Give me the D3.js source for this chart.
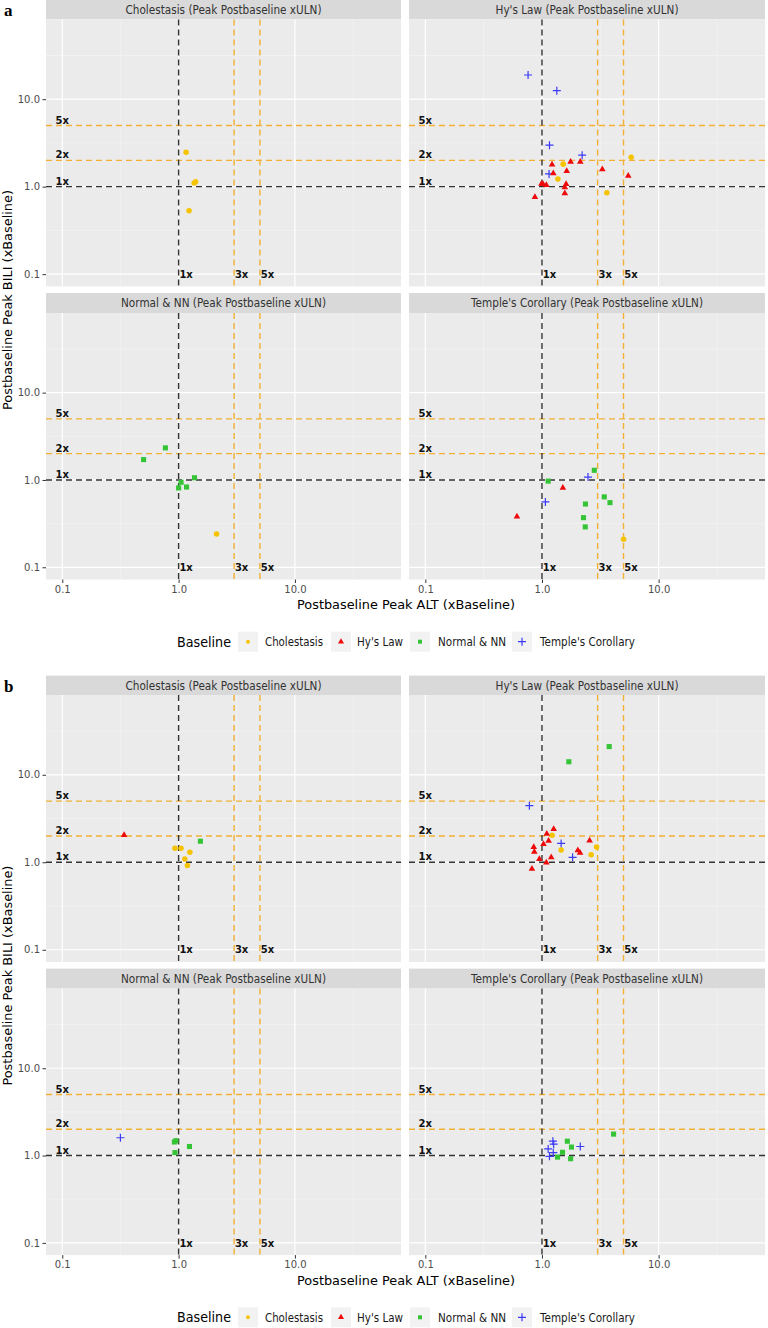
<!DOCTYPE html>
<html><head><meta charset="utf-8">
<script src="https://cdn.jsdelivr.net/npm/d3@7"></script>
<style>body{margin:0;background:#fff}</style>
</head><body>
<svg id="c" width="768" height="1328"></svg>
<script>
// ---------- data ----------
const categories = ["Cholestasis", "Hy's Law", "Normal & NN", "Temple's Corollary"];
const panelTitles = ["Cholestasis (Peak Postbaseline xULN)", "Hy's Law (Peak Postbaseline xULN)",
                     "Normal & NN (Peak Postbaseline xULN)", "Temple's Corollary (Peak Postbaseline xULN)"];
const majorTicks = [0.1, 1, 10];
const majorTickLabels = ["0.1", "1.0", "10.0"];
const minorTicks = [0.316, 3.16, 31.6];
const hRefValues = [1, 2, 5];
const hRefLabels = ["1x", "2x", "5x"];
const vRefValues = [1, 3, 5];
const vRefLabels = ["1x", "3x", "5x"];
const figureLabels = ["a", "b"];

// points: [peak ALT xBaseline, peak BILI xBaseline, baseline category]
const aCholestasis = [
  [1.16, 2.48, "Cholestasis"], [1.36, 1.10, "Cholestasis"], [1.40, 1.14, "Cholestasis"], [1.23, 0.53, "Cholestasis"]
];
const aHysLaw = [
  [0.76, 18.9, "Temple's Corollary"], [1.34, 12.5, "Temple's Corollary"], [1.16, 2.98, "Temple's Corollary"],
  [2.21, 2.29, "Temple's Corollary"], [1.15, 1.40, "Temple's Corollary"],
  [1.52, 1.81, "Cholestasis"], [1.37, 1.22, "Cholestasis"], [5.82, 2.17, "Cholestasis"], [3.60, 0.85, "Cholestasis"],
  [1.22, 1.79, "Hy's Law"], [1.76, 1.92, "Hy's Law"], [2.13, 1.92, "Hy's Law"], [1.63, 1.51, "Hy's Law"],
  [1.25, 1.42, "Hy's Law"], [0.99, 1.08, "Hy's Law"], [1.02, 1.07, "Hy's Law"], [1.09, 1.04, "Hy's Law"],
  [1.61, 1.07, "Hy's Law"], [1.57, 0.98, "Hy's Law"], [1.57, 0.84, "Hy's Law"], [0.87, 0.76, "Hy's Law"],
  [3.29, 1.58, "Hy's Law"], [5.49, 1.33, "Hy's Law"]
];
const aNormal = [
  [0.77, 2.33, "Normal & NN"], [0.50, 1.71, "Normal & NN"], [1.37, 1.06, "Normal & NN"],
  [1.05, 0.94, "Normal & NN"], [1.00, 0.81, "Normal & NN"], [1.17, 0.83, "Normal & NN"],
  [2.12, 0.24, "Cholestasis"]
];
const aTemple = [
  [2.81, 1.29, "Normal & NN"], [1.13, 0.97, "Normal & NN"], [3.42, 0.64, "Normal & NN"], [3.83, 0.55, "Normal & NN"],
  [2.36, 0.53, "Normal & NN"], [2.27, 0.37, "Normal & NN"], [2.35, 0.29, "Normal & NN"],
  [2.48, 1.08, "Temple's Corollary"], [1.07, 0.56, "Temple's Corollary"],
  [1.51, 0.81, "Hy's Law"], [0.61, 0.38, "Hy's Law"],
  [5.01, 0.21, "Cholestasis"]
];
const bCholestasis = [
  [0.34, 2.04, "Hy's Law"], [1.54, 1.74, "Normal & NN"],
  [0.93, 1.45, "Cholestasis"], [1.05, 1.45, "Cholestasis"], [1.25, 1.30, "Cholestasis"],
  [1.13, 1.09, "Cholestasis"], [1.19, 0.92, "Cholestasis"]
];
const bHysLaw = [
  [1.70, 14.1, "Normal & NN"], [3.77, 21.0, "Normal & NN"],
  [0.78, 4.44, "Temple's Corollary"], [1.46, 1.64, "Temple's Corollary"], [1.83, 1.14, "Temple's Corollary"],
  [1.22, 2.04, "Cholestasis"], [1.46, 1.38, "Cholestasis"], [2.94, 1.49, "Cholestasis"], [2.64, 1.22, "Cholestasis"],
  [1.26, 2.39, "Hy's Law"], [1.10, 2.12, "Hy's Law"], [1.14, 1.76, "Hy's Law"], [1.03, 1.61, "Hy's Law"],
  [0.85, 1.49, "Hy's Law"], [0.86, 1.32, "Hy's Law"], [0.95, 1.09, "Hy's Law"], [1.09, 0.99, "Hy's Law"],
  [1.20, 1.14, "Hy's Law"], [0.82, 0.84, "Hy's Law"], [2.03, 1.37, "Hy's Law"], [2.12, 1.28, "Hy's Law"],
  [2.56, 1.77, "Hy's Law"]
];
const bNormal = [
  [0.316, 1.60, "Temple's Corollary"],
  [0.92, 1.43, "Normal & NN"], [0.95, 1.48, "Normal & NN"], [0.93, 1.08, "Normal & NN"], [1.24, 1.27, "Normal & NN"]
];
const bTemple = [
  [4.11, 1.76, "Normal & NN"], [1.65, 1.46, "Normal & NN"], [1.79, 1.25, "Normal & NN"],
  [1.50, 1.09, "Normal & NN"], [1.36, 0.96, "Normal & NN"], [1.76, 0.92, "Normal & NN"],
  [1.24, 1.46, "Temple's Corollary"], [1.26, 1.35, "Temple's Corollary"], [1.13, 1.19, "Temple's Corollary"],
  [1.25, 1.08, "Temple's Corollary"], [1.16, 0.98, "Temple's Corollary"], [2.13, 1.27, "Temple's Corollary"]
];
const figures = [
  [aCholestasis, aHysLaw, aNormal, aTemple],
  [bCholestasis, bHysLaw, bNormal, bTemple]
];

// ---------- styling ----------
const colorScale = d3.scaleOrdinal().domain(categories).range(["#F6C300", "#EE0A0A", "#35C435", "#3B3BF5"]);
const ORANGE = "#F2B134", DARK = "#333333";
const FONT = "'DejaVu Sans', sans-serif";
const figOffsets = [0, 675.6];
const cols = [{x: 46, w: 355}, {x: 409, w: 356}];
const rows = [{strip: 0, top: 19.4, h: 267}, {strip: 293, top: 313, h: 266.5}];
const logDom = [Math.pow(10, -1.14), Math.pow(10, 1.912)];

const svg = d3.select("#c");

function fit(sel, w) { sel.attr("textLength", w).attr("lengthAdjust", "spacingAndGlyphs"); return sel; }

function symbolPath(cat) {
  if (cat === "Cholestasis") return d3.symbol(d3.symbolCircle, 24)();
  if (cat === "Hy's Law") return d3.symbol(d3.symbolTriangle, 19)();
  if (cat === "Normal & NN") return d3.symbol(d3.symbolSquare, 26)();
  return "M-4,0H4M0,-4V4";
}
function styleMark(sel) {
  sel.attr("d", d => symbolPath(d[2]))
    .attr("fill", d => d[2] === "Temple's Corollary" ? "none" : colorScale(d[2]))
    .attr("stroke", d => d[2] === "Temple's Corollary" ? colorScale(d[2]) : "none")
    .attr("stroke-width", 1.2);
}

const stripWidths = [196, 183, 205, 232];

figures.forEach((panels, fi) => {
  const g = svg.append("g").attr("transform", `translate(0,${figOffsets[fi]})`);
  g.append("text").attr("x", 4).attr("y", 16).text(figureLabels[fi])
    .attr("font-family", "'Liberation Serif', serif").attr("font-weight", "bold").attr("font-size", 17);

  panels.forEach((pts, pi) => {
    const col = cols[pi % 2], row = rows[Math.floor(pi / 2)];
    const x = d3.scaleLog().domain(logDom).range([col.x, col.x + col.w]);
    const y = d3.scaleLog().domain(logDom).range([row.top + row.h, row.top]);
    const p = g.append("g");
    // strip
    p.append("rect").attr("x", col.x).attr("y", row.strip).attr("width", col.w).attr("height", row.top - row.strip)
      .attr("fill", "#D9D9D9");
    fit(p.append("text").attr("x", col.x + col.w / 2).attr("y", row.strip + 14).attr("text-anchor", "middle")
      .attr("font-family", FONT).attr("font-size", 12).attr("fill", "#333").text(panelTitles[pi]), stripWidths[pi]);
    // panel bg
    p.append("rect").attr("x", col.x).attr("y", row.top).attr("width", col.w).attr("height", row.h).attr("fill", "#EBEBEB");
    // grid
    p.selectAll(".vmin").data(minorTicks).join("line").attr("x1", d => x(d)).attr("x2", d => x(d))
      .attr("y1", row.top).attr("y2", row.top + row.h).attr("stroke", "#F5F5F5").attr("stroke-width", 0.6);
    p.selectAll(".hmin").data(minorTicks).join("line").attr("y1", d => y(d)).attr("y2", d => y(d))
      .attr("x1", col.x).attr("x2", col.x + col.w).attr("stroke", "#F5F5F5").attr("stroke-width", 0.6);
    p.selectAll(".vmaj").data(majorTicks).join("line").attr("x1", d => x(d)).attr("x2", d => x(d))
      .attr("y1", row.top).attr("y2", row.top + row.h).attr("stroke", "#FFFFFF").attr("stroke-width", 1.2);
    p.selectAll(".hmaj").data(majorTicks).join("line").attr("y1", d => y(d)).attr("y2", d => y(d))
      .attr("x1", col.x).attr("x2", col.x + col.w).attr("stroke", "#FFFFFF").attr("stroke-width", 1.2);
    // reference lines
    p.selectAll(".href").data(hRefValues).join("line").attr("y1", d => y(d)).attr("y2", d => y(d))
      .attr("x1", col.x).attr("x2", col.x + col.w)
      .attr("stroke", d => d === 1 ? DARK : ORANGE).attr("stroke-width", 1.4).attr("stroke-dasharray", "6,4");
    p.selectAll(".vref").data(vRefValues).join("line").attr("x1", d => x(d)).attr("x2", d => x(d))
      .attr("y1", row.top).attr("y2", row.top + row.h)
      .attr("stroke", d => d === 1 ? DARK : ORANGE).attr("stroke-width", 1.4).attr("stroke-dasharray", "6,4");
    // reference labels
    p.selectAll(".hlab").data(hRefValues).join("text").attr("x", x(0.1)).attr("y", d => y(d) - 2)
      .attr("text-anchor", "middle").attr("font-family", FONT).attr("font-weight", "bold").attr("font-size", 10)
      .attr("fill", "#111").text((d, i) => hRefLabels[i]);
    p.selectAll(".vlab").data(vRefValues).join("text").attr("x", d => x(d) + 0.8).attr("y", y(0.1) + 3.7)
      .attr("font-family", FONT).attr("font-weight", "bold").attr("font-size", 10)
      .attr("fill", "#111").text((d, i) => vRefLabels[i]);
    // points
    p.selectAll(".pt").data(pts).join("path")
      .attr("transform", d => `translate(${x(d[0])},${y(d[1])})`).call(styleMark);
    // axes
    if (pi % 2 === 0) {
      const ya = p.append("g").attr("transform", `translate(${col.x},0)`)
        .call(d3.axisLeft(y).tickValues(majorTicks).tickFormat((d, i) => majorTickLabels[i]).tickSize(3.5).tickPadding(2.5));
      ya.select(".domain").remove();
      ya.selectAll("line").attr("stroke", DARK);
      ya.selectAll("text").attr("font-family", FONT).attr("font-size", 10).attr("fill", "#4D4D4D");
    }
    if (pi >= 2) {
      const xa = p.append("g").attr("transform", `translate(0,${row.top + row.h})`)
        .call(d3.axisBottom(x).tickValues(majorTicks).tickFormat((d, i) => majorTickLabels[i]).tickSize(3.5).tickPadding(2.5));
      xa.select(".domain").remove();
      xa.selectAll("line").attr("stroke", DARK);
      xa.selectAll("text").attr("font-family", FONT).attr("font-size", 10).attr("fill", "#4D4D4D");
    }
  });

  // axis titles
  fit(g.append("text").attr("x", 406).attr("y", 609).attr("text-anchor", "middle")
    .attr("font-family", FONT).attr("font-size", 12.5).attr("fill", "#000").text("Postbaseline Peak ALT (xBaseline)"), 218);
  fit(g.append("text").attr("transform", "translate(12,300) rotate(-90)").attr("text-anchor", "middle")
    .attr("font-family", FONT).attr("font-size", 12.5).attr("fill", "#000").text("Postbaseline Peak BILI (xBaseline)"), 220);

  // legend
  const ly = 641.7;
  fit(g.append("text").attr("x", 177).attr("y", ly + 5).attr("font-family", FONT).attr("font-size", 14)
    .attr("fill", "#000").text("Baseline"), 54);
  const keyX = [238, 331, 410, 512];
  const labX = [265, 357, 438, 540];
  const labW = [58, 46, 68, 95];
  categories.forEach((c, i) => {
    g.append("rect").attr("x", keyX[i]).attr("y", ly - 10).attr("width", 20).attr("height", 20).attr("fill", "#F2F2F2");
    g.append("path").datum([0, 0, c]).attr("transform", `translate(${keyX[i] + 10},${ly})`).call(styleMark)
      .attr("d", c === "Temple's Corollary" ? "M-4,0H4M0,-4V4" : d3.symbol(
        c === "Cholestasis" ? d3.symbolCircle : c === "Hy's Law" ? d3.symbolTriangle : d3.symbolSquare,
        c === "Cholestasis" ? 12 : 16)());
    fit(g.append("text").attr("x", labX[i]).attr("y", ly + 4.5).attr("font-family", FONT).attr("font-size", 12)
      .attr("fill", "#1a1a1a").text(c), labW[i]);
  });
});
</script>
</body></html>
